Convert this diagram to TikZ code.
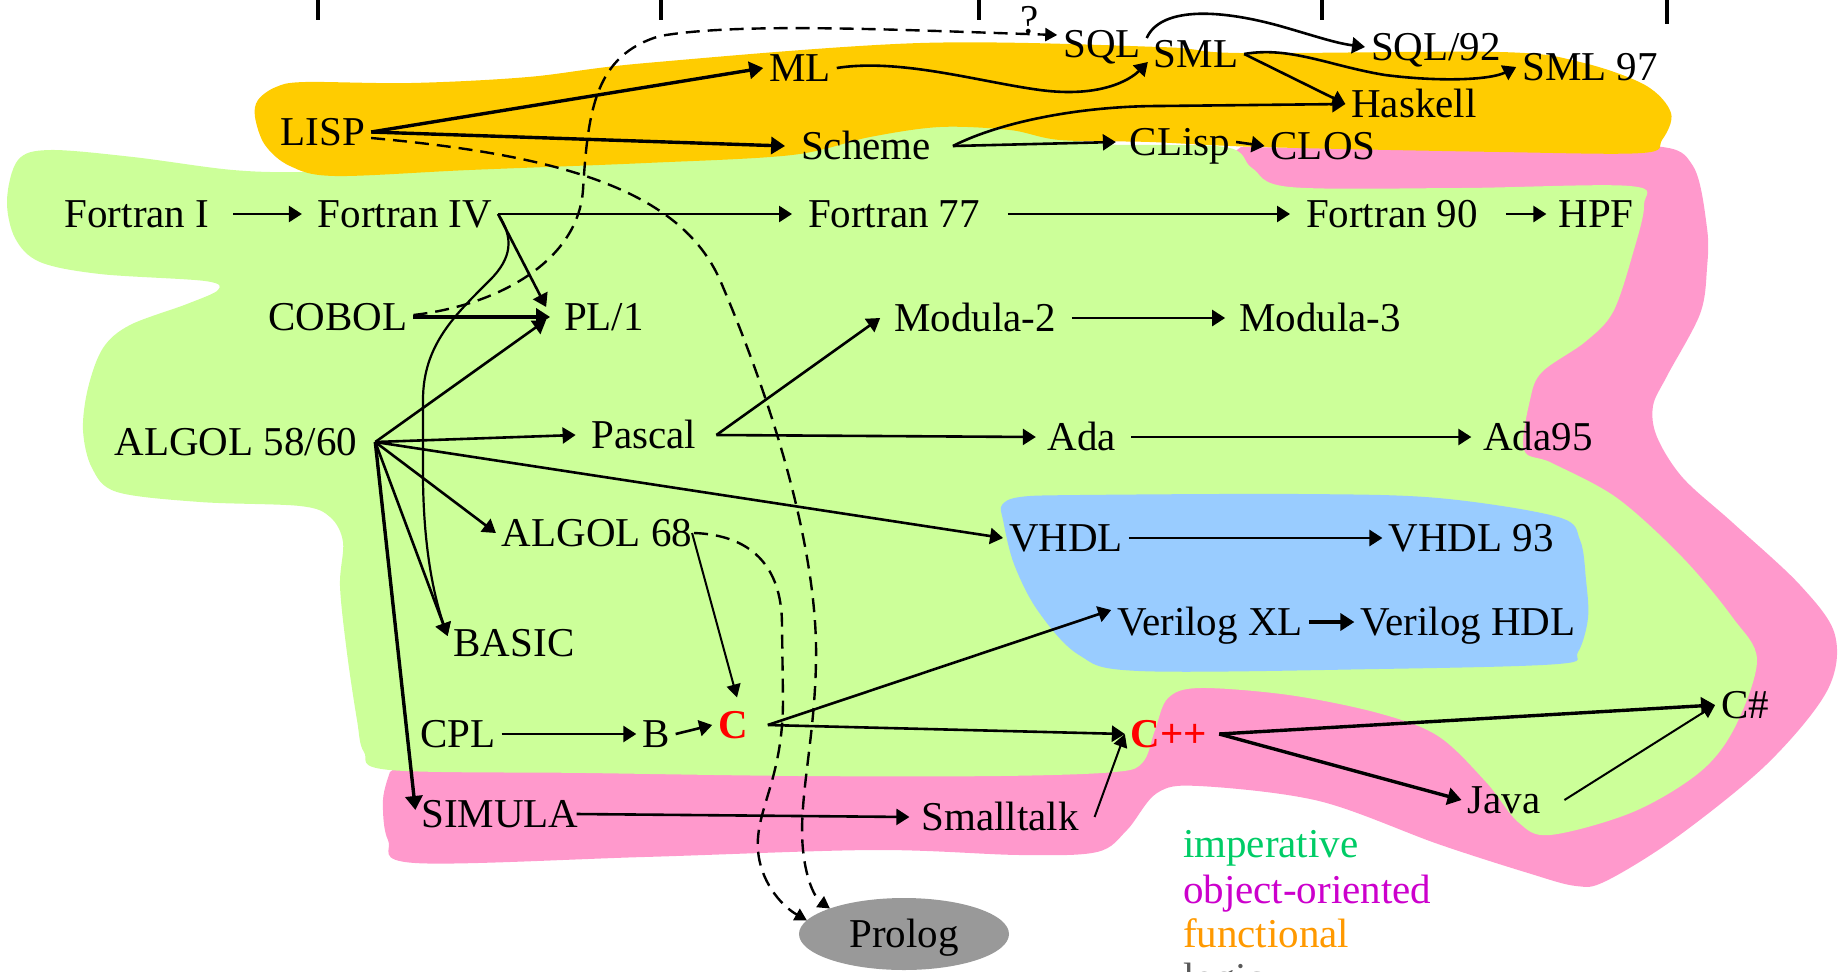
\documentclass[tikz,border=0pt]{standalone}
\usepackage{fontspec}
\setmainfont{Liberation Serif}
\usetikzlibrary{arrows.meta,shapes.geometric}
\definecolor{funcbg}{HTML}{FFCC00}
\definecolor{impbg}{HTML}{CCFF99}
\definecolor{oobg}{HTML}{FF99CC}
\definecolor{hdlbg}{HTML}{99CCFF}
\definecolor{logicbg}{HTML}{999999}
\definecolor{impfg}{HTML}{00CC66}
\definecolor{oofg}{HTML}{CC00CC}
\definecolor{funcfg}{HTML}{FF9900}
\definecolor{logicfg}{HTML}{595959}
\begin{document}
\begin{tikzpicture}[x=0.5pt,y=-0.5pt,
  lang/.style={font=\fontsize{20.5}{24}\selectfont, inner sep=3pt, outer sep=0pt,
               text height=13.6pt, text depth=0pt},
  hot/.style={lang, text=red, font=\fontsize{20.5}{24}\selectfont\bfseries},
  legend/.style={lang, anchor=west},
  arr/.style={line width=1.3pt, -{Triangle[length=6.5pt,width=8pt]}},
  boldarr/.style={line width=1.7pt, -{Triangle[length=7pt,width=8.5pt]}},
  thinarr/.style={line width=1pt, -{Triangle[length=6.5pt,width=7pt]}},
  dasharr/.style={line width=1.2pt, dash pattern=on 7pt off 4pt,
                  -{Triangle[length=6pt,width=6.5pt]}},
  tick/.style={line width=2.2pt}]
\useasboundingbox (0,0) rectangle (1838,971);

% ---- paradigm regions ----
% object-oriented
\fill[oobg] plot[smooth, tension=0.55] coordinates {
  (1241,147) (1500,150) (1653,146) (1693,166) (1707,228) (1707,268) (1700,314)
  (1667,376) (1653,406) (1657,437) (1683,478) (1733,523) (1800,585) (1835,635)
  (1827,691) (1767,764) (1677,837) (1606,881) (1576,886) (1528,873) (1438,844)
  (1319,801) (1199,786) (1157,793) (1127,830) (1097,852) (1020,855) (874,850)
  (644,857) (415,863) (388,840) (383,800) (390,772)} -- cycle;
% imperative
\fill[impbg] plot[smooth cycle, tension=0.55] coordinates {
  (7,200) (18,160) (50,150) (133,157) (233,170) (310,172) (450,168) (640,160)
  (800,140) (900,124) (990,120) (1045,132) (1100,144) (1225,147) (1252,168)
  (1290,187) (1460,188) (1630,186) (1644,205) (1633,253) (1613,312) (1585,342)
  (1542,372) (1530,400) (1524,450) (1552,463) (1617,498) (1683,558) (1733,618)
  (1757,660) (1735,727) (1700,772) (1633,812) (1550,835) (1518,822) (1486,782)
  (1438,736) (1378,713) (1289,695) (1200,688) (1168,698) (1155,730) (1143,762)
  (1115,772) (1000,776) (800,776) (587,773) (390,770) (364,752) (357,720)
  (347,653) (340,586) (343,542) (330,517) (300,506) (200,502) (117,492)
  (92,468) (83,430) (88,388) (103,348) (130,325) (187,304) (218,290) (205,281)
  (100,274) (40,262) (15,238)};
% hardware description
\fill[hdlbg] plot[smooth cycle, tension=0.55] coordinates {
  (1002,505) (1020,497) (1079,495) (1300,494) (1438,498) (1558,517) (1580,540)
  (1586,580) (1588,618) (1578,652) (1558,664) (1378,669) (1139,671) (1079,655)
  (1038,611) (1014,564) (1003,520)};
% functional
\fill[funcbg] plot[smooth cycle, tension=0.55] coordinates {
  (255,117) (258,100) (276,87) (305,82) (411,83) (528,77) (646,63) (920,43)
  (1160,47) (1240,53) (1500,52) (1580,62) (1645,85) (1671,113) (1662,140)
  (1642,153) (1500,152) (1259,147) (1150,142) (1060,140) (1010,130) (940,127)
  (870,137) (792,155) (646,163) (469,170) (335,176) (290,166) (265,145)};

% ---- time axis ticks ----
\draw[tick] (318,0) -- (318,20);
\draw[tick] (661,0) -- (661,20);
\draw[tick] (979,0) -- (979,20);
\draw[tick] (1322,0) -- (1322,20);
\draw[tick] (1667,0) -- (1667,24);

% ---- languages ----
\node[lang] (lisp) at (323,132) {LISP};
\node[lang] (ml) at (800,68) {ML};
\node[lang] (sql) at (1102,44) {SQL};
\node[lang] (sml) at (1196,54) {SML};
\node[lang] (sql92) at (1436,47) {SQL/92};
\node[lang] (sml97) at (1590,67) {SML 97};
\node[lang] (haskell) at (1414,104) {Haskell};
\node[lang] (scheme) at (866,146) {Scheme};
\node[lang] (clisp) at (1180,142) {CLisp};
\node[lang] (clos) at (1323,146) {CLOS};
\node[lang] (fI) at (137,214) {Fortran I};
\node[lang] (fIV) at (405,214) {Fortran IV};
\node[lang] (f77) at (894,214) {Fortran 77};
\node[lang] (f90) at (1392,214) {Fortran 90};
\node[lang] (hpf) at (1596,214) {HPF};
\node[lang] (cobol) at (338,317) {COBOL};
\node[lang] (pl1) at (604,317) {PL/1};
\node[lang] (mod2) at (975,318) {Modula-2};
\node[lang] (mod3) at (1320,318) {Modula-3};
\node[lang] (algol) at (236,442) {ALGOL 58/60};
\node[lang] (pascal) at (644,435) {Pascal};
\node[lang] (ada) at (1082,437) {Ada};
\node[lang] (ada95) at (1538,437) {Ada95};
\node[lang] (algol68) at (597,533) {ALGOL 68};
\node[lang] (vhdl) at (1066,538) {VHDL};
\node[lang] (vhdl93) at (1471,538) {VHDL 93};
\node[lang] (basic) at (514,643) {BASIC};
\node[lang] (vxl) at (1210,622) {Verilog XL};
\node[lang] (vhdlg) at (1468,622) {Verilog HDL};
\node[lang] (cpl) at (458,734) {CPL};
\node[lang] (b) at (656,734) {B};
\node[hot] (c) at (733,725) {C};
\node[hot] (cpp) at (1169,734) {C++};
\node[lang] (csharp) at (1745,705) {C\#};
\node[lang] (java) at (1504,800) {Java};
\node[lang] (simula) at (500,814) {SIMULA};
\node[lang] (smalltalk) at (1000,817) {Smalltalk};
\node[lang, ellipse, fill=logicbg, minimum width=105pt, minimum height=36pt]
  (prolog) at (904,934) {Prolog};
\node[lang] (qmark) at (1030,20) {?};

% ---- legend ----
\node[legend, text=impfg] (limp) at (1177,844) {imperative};
\node[legend, text=oofg] (loo) at (1177,890) {object-oriented};
\node[legend, text=funcfg] (lfun) at (1177,934) {functional};
\node[legend, text=logicfg] (llog) at (1177,978) {logic};

% ---- shared arrow origins ----
\coordinate (ae) at ([xshift=6pt]algol.east);
\coordinate (se) at ([xshift=8pt]scheme.east);
\coordinate (pe) at ([xshift=7pt]pascal.east);
\coordinate (ce) at ([xshift=7pt]c.east);
\coordinate (cppe) at ([xshift=3pt]cpp.east);

% ---- functional line ----
\draw[boldarr] (lisp.east) -- (ml.west);
\draw[boldarr] (lisp.east) -- ([xshift=-5pt]scheme.west);
\draw[arr] (ml.east) .. controls (900,58) and (980,82) .. (1040,90)
  .. controls (1100,98) and (1130,80) .. ([yshift=-4pt]sml.west);
\draw[arr] ([yshift=3pt]sql.east) .. controls (1160,8) and (1215,8) .. (1280,26)
  .. controls (1315,36) and (1335,43) .. (sql92.west);
\draw[arr] (sml.east) .. controls (1290,46) and (1330,66) .. (1385,75)
  .. controls (1440,82) and (1490,80) .. (sml97.west);
\draw[arr] (sml.east) -- (haskell.west);
\draw[arr] (se) .. controls (1000,122) and (1080,106) .. (1160,106) -- (haskell.west);
\draw[arr] (se) -- ([xshift=-4pt]clisp.west);
\draw[arr] (clisp.east) -- (clos.west);

% ---- Fortran line ----
\draw[arr] ([xshift=9pt]fI.east) -- ([xshift=-5pt]fIV.west);
\draw[arr] (fIV.east) -- ([xshift=-5pt]f77.west);
\draw[arr] ([xshift=11pt]f77.east) -- ([xshift=-5pt]f90.west);
\draw[arr] ([xshift=11pt]f90.east) -- ([xshift=-3pt]hpf.west);
\draw[arr] (fIV.east) -- ([xshift=-6pt,yshift=5pt]pl1.west);
\draw[line width=1.1pt, -{Triangle[length=6.5pt,width=7.5pt]}] (fIV.east)
  .. controls (514,238) and (512,258) .. (490,280)
  .. controls (455,315) and (423,345) .. (423,400) -- (423,480)
  .. controls (424,560) and (437,605) .. ([yshift=3.5pt]basic.west);
\draw[boldarr] (cobol.east) -- ([xshift=-4pt]pl1.west);

% ---- ALGOL family ----
\draw[arr] (ae) -- ([xshift=-6pt,yshift=-1.5pt]pl1.west);
\draw[arr] (ae) -- ([xshift=-5pt]pascal.west);
\draw[arr] (ae) -- (vhdl.west);
\draw[arr] (ae) -- (algol68.west);
\draw[arr] (ae) -- ([yshift=3.5pt]basic.west);
\draw[boldarr] (ae) -- ([yshift=2pt]simula.west);
\draw[arr] (pe) -- ([xshift=-4pt]mod2.west);
\draw[arr] (pe) -- ([xshift=-3pt]ada.west);
\draw[arr] ([xshift=5pt]mod2.east) -- ([xshift=-4pt]mod3.west);
\draw[arr] ([xshift=4.5pt]ada.east) -- ([xshift=-3pt]ada95.west);
\draw[arr] (vhdl.east) -- (vhdl93.west);
\draw[boldarr] (vxl.east) -- (vhdlg.west);
\draw[thinarr] ([xshift=-3pt]algol68.east) -- ([xshift=2pt,yshift=4pt]c.north);

% ---- C and object-oriented line ----
\draw[arr] (cpl.east) -- (b.west);
\draw[arr] (b.east) -- (c.west);
\draw[arr] (ce) -- ([yshift=6pt]vxl.west);
\draw[arr] (ce) -- (cpp.west);
\draw[arr] ([xshift=-4pt]simula.east) -- ([xshift=-3pt]smalltalk.west);
\draw[thinarr] ([xshift=5pt]smalltalk.east) -- (cpp.west);
\draw[boldarr] (cppe) -- (csharp.west);
\draw[boldarr] (cppe) -- (java.west);
\draw[thinarr] ([xshift=9pt]java.east) -- (csharp.west);

% ---- dashed influences ----
\draw[dasharr] ([yshift=1pt]cobol.east) .. controls (500,305) and (578,260) .. (583,190)
  .. controls (588,110) and (595,55) .. (660,36)
  .. controls (740,22) and (900,30) .. ([yshift=4.5pt]sql.west);
\draw[dasharr] ([yshift=-3pt]lisp.east) .. controls (560,155) and (680,190) .. (720,280)
  .. controls (780,420) and (818,560) .. (816,660)
  .. controls (815,740) and (798,800) .. (803,850)
  .. controls (806,880) and (815,898) .. (prolog.161);
\draw[dasharr] ([xshift=-2pt]algol68.east) .. controls (750,535) and (782,565) .. (782,625)
  -- (783,700) .. controls (783,780) and (755,810) .. (758,850)
  .. controls (760,880) and (780,905) .. (prolog.172);
\end{tikzpicture}
\end{document}
